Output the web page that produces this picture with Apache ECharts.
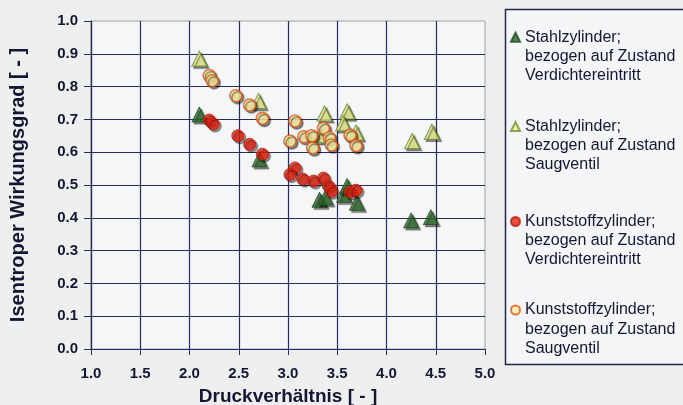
<!DOCTYPE html>
<html><head><meta charset="utf-8">
<script src="https://cdn.jsdelivr.net/npm/echarts@6/dist/echarts.min.js"></script>
<style>html,body{margin:0;padding:0;background:#eef0ef;}#c{width:683px;height:405px;}</style>
</head><body><div id="c"></div>
<script>
const xTicks = ['1.0','1.5','2.0','2.5','3.0','3.5','4.0','4.5','5.0'];
const yTicks = ['0.0','0.1','0.2','0.3','0.4','0.5','0.6','0.7','0.8','0.9','1.0'];
const seriesNames = [
  'Stahlzylinder;\nbezogen auf Zustand\nVerdichtereintritt',
  'Stahlzylinder;\nbezogen auf Zustand\nSaugventil',
  'Kunststoffzylinder;\nbezogen auf Zustand\nVerdichtereintritt',
  'Kunststoffzylinder;\nbezogen auf Zustand\nSaugventil'
];
const steelInlet = [[2.10,0.715],[2.71,0.578],[3.32,0.455],[3.38,0.462],[3.57,0.470],[3.60,0.497],[3.70,0.446],[4.25,0.392],[4.45,0.402]];
const steelValve = [[2.10,0.885],[2.70,0.756],[3.37,0.718],[3.60,0.724],[3.56,0.688],[3.33,0.652],[3.69,0.660],[4.26,0.634],[4.46,0.662]];
const plasticInlet = [[2.20,0.698],[2.24,0.686],[2.49,0.650],[2.61,0.624],[2.74,0.594],[3.07,0.552],[3.02,0.532],[3.15,0.518],[3.26,0.512],[3.36,0.521],[3.41,0.497],[3.44,0.481],[3.63,0.479],[3.69,0.484]];
const plasticValve = [[2.20,0.834],[2.23,0.818],[2.47,0.772],[2.61,0.744],[2.74,0.703],[3.07,0.695],[3.02,0.634],[3.16,0.647],[3.24,0.650],[3.25,0.613],[3.36,0.673],[3.42,0.644],[3.44,0.622],[3.63,0.652],[3.69,0.620]];

const txt = '#161634';
const gridCol = '#2c2c5c';
const shadow = {shadowColor:'rgba(0,0,0,0.55)', shadowOffsetX:2, shadowOffsetY:2, shadowBlur:1};
const styles = [
  {symbol:'triangle', size:15, item:Object.assign({color:'#2f6b2c', borderColor:'#1c481c', borderWidth:1}, shadow)},
  {symbol:'triangle', size:15, item:Object.assign({color:'#eef08e', borderColor:'#6f9030', borderWidth:1.2}, shadow)},
  {symbol:'circle', size:12, item:Object.assign({color:'#e62412', borderColor:'#b51a0a', borderWidth:1}, shadow)},
  {symbol:'circle', size:12, item:Object.assign({color:'#fff2a2', borderColor:'#e0541a', borderWidth:1.6}, shadow)}
];
const datasets = [steelInlet, steelValve, plasticInlet, plasticValve];
const lineMid = [37.3, 126.5, 221.5, 310];
const LH = 19.2;

const chart = echarts.init(document.getElementById('c'));
chart.setOption({
  animation:false,
  backgroundColor:'#eef0ef',
  textStyle:{fontFamily:'"Liberation Sans", Arial, sans-serif'},
  graphic:[{type:'rect', z:0, shape:{x:505.5, y:9.5, width:200, height:355}, style:{fill:'#f3f5f6', stroke:'#24244c', lineWidth:1.5}}],
  grid:{left:91, right:198, top:21, bottom:56, containLabel:false, outerBoundsMode:'none', show:true, backgroundColor:'#f4f6f8', borderColor:'#a0a0a8', borderWidth:1},
  legend: seriesNames.map((n,i)=>({
    data:[n], orient:'vertical', left:510, top: lineMid[i] - 2.5*LH, padding:0, z:5,
    itemWidth:9, itemHeight:9, selectedMode:false,
    formatter: s => '\n\n' + s,
    textStyle:{fontSize:16, color:txt, lineHeight:LH, fontFamily:'"Liberation Sans", Arial, sans-serif'}
  })),
  xAxis:{type:'value', min:1, max:5, interval:0.5,
    name:'Druckverhältnis [ - ]', nameLocation:'middle', nameGap:38,
    nameTextStyle:{fontSize:19, fontWeight:'bold', color:txt},
    axisLine:{lineStyle:{color:gridCol, width:1.2}},
    axisTick:{length:6, lineStyle:{color:gridCol}},
    axisLabel:{margin:17, fontSize:15, fontWeight:'bold', color:txt, formatter:v=>xTicks[Math.round((v-1)/0.5)]},
    splitLine:{show:true, showMaxLine:false, lineStyle:{color:gridCol, width:1.2}}
  },
  yAxis:{type:'value', min:0, max:1, interval:0.1,
    name:'Isentroper Wirkungsgrad [ - ]', nameLocation:'middle', nameGap:63, nameRotate:90,
    nameTextStyle:{fontSize:20, fontWeight:'bold', color:txt},
    axisLine:{show:true, lineStyle:{color:gridCol, width:1.2}},
    axisTick:{show:true, length:7, lineStyle:{color:gridCol}},
    axisLabel:{margin:13, fontSize:15, fontWeight:'bold', color:txt, formatter:v=>yTicks[Math.round(v*10)]},
    splitLine:{show:true, showMaxLine:false, lineStyle:{color:gridCol, width:1.2}}
  },
  series: datasets.map((d,i)=>({
    type:'scatter', name:seriesNames[i], data:d, symbol:styles[i].symbol, symbolSize:styles[i].size,
    itemStyle:styles[i].item, z:2+i
  }))
});
</script></body></html>
